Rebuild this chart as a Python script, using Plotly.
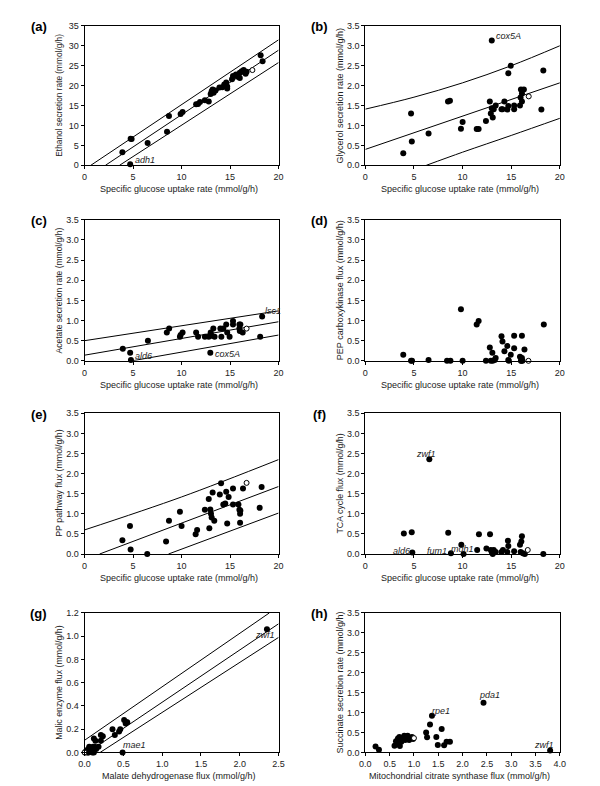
import plotly.graph_objects as go

# ---------------- data ----------------
# (a) ethanol secretion vs glucose uptake
a_x = [3.9, 4.75, 4.85, 4.7, 6.5, 8.5, 8.7, 9.9, 10.1, 11.5, 11.7, 11.9, 12.4, 12.8, 13.0, 13.1, 13.2,
       13.3, 13.5, 13.9, 14.2, 14.4, 14.6, 14.7, 14.7, 15.2, 15.3, 15.6, 15.8, 16.0, 16.0, 16.2, 16.4,
       16.6, 16.7, 18.15, 18.35]
a_y = [3.3, 6.7, 6.6, 0.3, 5.6, 8.4, 12.4, 12.9, 13.4, 15.3, 15.4, 15.9, 16.3, 16.0, 17.9, 18.6, 19.0,
       18.2, 18.8, 19.5, 19.6, 20.3, 20.8, 19.3, 19.8, 21.6, 22.4, 22.8, 22.2, 23.2, 21.9, 23.6, 23.9,
       23.0, 23.5, 27.6, 26.1]
a_open = ([17.3], [23.9])
a_upper = ([0.64, 20], [0, 31.5])
a_mid = ([2.15, 20], [0, 28.9])
a_lower = ([3.6, 20], [0, 25.8])

# (b) glycerol secretion
b_x = [3.9, 4.7, 4.78, 6.5, 8.5, 8.7, 9.83, 10.0, 11.45, 11.65, 12.4, 12.8, 12.9, 13.0, 13.0, 13.1,
       13.2, 13.4, 14.0, 14.1, 14.3, 14.6, 14.7, 14.7, 14.95, 15.3, 15.3, 15.9, 15.96, 16.0, 16.1,
       16.1, 16.3, 18.1, 18.3]
b_y = [0.30, 1.30, 0.60, 0.80, 1.60, 1.62, 0.92, 1.09, 0.91, 0.91, 1.11, 1.60, 1.30, 1.43, 3.13, 1.20,
       1.41, 1.50, 1.41, 1.41, 1.60, 1.40, 2.31, 1.49, 2.50, 1.50, 1.41, 1.50, 1.70, 1.90, 1.80,
       1.60, 1.90, 1.40, 2.38]
b_open = ([16.8], [1.73])
b_upper = ([0, 5, 10, 15, 20], [1.41, 1.71, 2.07, 2.50, 3.0])
b_mid = ([0, 20], [0.40, 2.07])
b_lower = ([6.26, 10, 15, 20], [0, 0.33, 0.75, 1.18])

# (c) acetate secretion
c_x = [3.94, 4.7, 4.78, 6.53, 8.48, 8.72, 9.83, 9.9, 10.1, 11.5, 11.7, 12.4, 12.8, 12.96, 13.0, 13.1,
       13.27, 13.4, 14.0, 14.1, 14.3, 14.6, 14.7, 14.95, 15.3, 15.3, 15.96, 16.06, 15.96, 16.0, 16.3,
       18.1, 18.3]
c_y = [0.30, 0.20, 0.02, 0.50, 0.70, 0.80, 0.60, 0.64, 0.70, 0.70, 0.60, 0.60, 0.60, 0.20, 0.70, 0.62,
       0.80, 0.60, 0.80, 0.60, 0.80, 0.90, 0.70, 0.60, 0.99, 0.90, 0.90, 0.90, 0.80, 0.74, 0.70,
       0.60, 1.10]
c_open = ([16.7], [0.80])
c_upper = ([0, 20], [0.50, 1.24])
c_mid = ([0, 20], [0.14, 0.97])
c_lower = ([4.9, 20], [0, 0.64])

# (d) PEP carboxykinase flux
d_x = [3.9, 4.7, 4.8, 6.5, 8.4, 8.75, 9.83, 10.0, 11.45, 11.65, 12.4, 12.8, 12.9, 13.1, 13.06, 13.3,
       13.4, 14.0, 14.1, 14.3, 14.6, 14.7, 14.75, 14.95, 15.3, 15.3, 15.9, 16.0, 16.05, 16.1, 16.1,
       16.15, 16.36, 18.35]
d_y = [0.15, 0.0, 0.0, 0.02, 0.0, 0.0, 1.28, 0.0, 0.90, 0.99, 0.0, 0.33, 0.0, 0.0, 0.20, 0.02,
       0.07, 0.61, 0.48, 0.24, 0.37, 0.02, 0.0, 0.15, 0.31, 0.62, 0.10, 0.0, 0.0, 0.62, 0.07,
       0.0, 0.28, 0.90]
d_open = ([16.77], [0.0])

# (e) PP pathway flux
e_x = [3.9, 4.68, 4.75, 6.46, 8.4, 8.7, 9.83, 10.0, 11.45, 11.6, 12.4, 12.8, 12.86, 12.96, 13.03,
       13.1, 13.2, 13.37, 13.94, 14.07, 14.3, 14.5, 14.6, 14.7, 14.85, 15.3, 15.3, 15.86, 15.96,
       16.03, 16.06, 16.03, 16.33, 18.05, 18.25]
e_y = [0.34, 0.70, 0.11, 0.0, 0.31, 0.83, 1.05, 0.70, 0.49, 0.60, 1.10, 1.37, 0.64, 1.11, 1.00,
       0.91, 1.53, 0.83, 1.48, 1.76, 1.23, 1.26, 1.55, 0.76, 1.42, 1.63, 1.23, 1.23, 1.10,
       1.00, 1.08, 0.78, 1.63, 1.15, 1.67]
e_open = ([16.7], [1.77])
e_upper = ([0, 10, 20], [0.60, 1.42, 2.35])
e_mid = ([1.55, 20], [0, 1.68])
e_lower = ([8.65, 20], [0, 1.02])

# (f) TCA cycle flux
f_x = [3.96, 4.77, 4.83, 6.58, 8.52, 8.8, 9.87, 10.1, 11.5, 11.68, 12.45, 12.82, 12.9, 13.0, 13.1,
       13.2, 13.4, 14.0, 14.15, 14.66, 14.7, 14.6, 15.3, 15.9, 16.04, 16.1, 15.97, 16.2, 16.4, 18.3]
f_y = [0.51, 0.54, 0.04, 2.36, 0.53, 0.02, 0.23, 0.0, 0.10, 0.49, 0.14, 0.49, 0.10, 0.05, 0.0,
       0.10, 0.05, 0.05, 0.10, 0.33, 0.20, 0.05, 0.07, 0.23, 0.31, 0.44, 0.05, 0.02, 0.0, 0.0]
f_open = ([16.7], [0.10])

# (g) malic enzyme vs malate dehydrogenase flux
g_x = [2.35, 0.49, 0.12, 0.14, 0.21, 0.21, 0.235, 0.36, 0.39, 0.445, 0.46, 0.51, 0.53, 0.54, 0.55,
       0.01, 0.02, 0.03, 0.04, 0.05, 0.05, 0.06, 0.07, 0.08, 0.09, 0.10, 0.11, 0.12, 0.13, 0.15, 0.18]
g_y = [1.06, 0.0, 0.12, 0.10, 0.10, 0.15, 0.14, 0.20, 0.15, 0.18, 0.20, 0.28, 0.25, 0.26, 0.26,
       0.0, 0.01, 0.02, 0.0, 0.03, 0.0, 0.05, 0.01, 0.04, 0.02, 0.0, 0.05, 0.0, 0.05, 0.03, 0.05]
g_open = ([0.0], [0.0])
g_upper = ([0, 2.38], [0.105, 1.2])
g_mid = ([0.04, 2.5], [0, 1.107])
g_lower = ([0.2, 2.5], [0, 0.99])

# (h) succinate secretion vs mitochondrial citrate synthase flux
h_x = [0.21, 0.28, 0.60, 0.63, 0.67, 0.70, 0.71, 0.74, 0.76, 0.80, 0.82, 0.84, 0.87, 0.90, 0.96,
       0.98, 0.67, 1.25, 1.27, 1.33, 1.37, 1.46, 1.49, 1.57, 1.62, 1.67, 1.74, 2.43, 3.80]
h_y = [0.15, 0.07, 0.17, 0.28, 0.35, 0.39, 0.16, 0.27, 0.32, 0.42, 0.31, 0.37, 0.42, 0.31, 0.39,
       0.34, 0.21, 0.50, 0.38, 0.70, 0.92, 0.39, 0.19, 0.59, 0.18, 0.27, 0.27, 1.25, 0.05]
h_open = ([1.0], [0.36])

# ---------------- layout helpers ----------------
W, H = 600, 786
FONT = "Liberation Sans, Arial, sans-serif"
TXT = "#222222"


def dx(l, r):
    return [l / W, r / W]


def dy(t, b):
    return [1 - b / H, 1 - t / H]


LX, RX = (72, 270), (358.5, 557)
ROWS = [(13, 154.3), (209.5, 352.3), (405.5, 548), (607.7, 749)]

panels = [
    dict(lab="(a)", col=LX, row=ROWS[0], xr=[0, 20], xd=5, xf="d", yr=[0, 35], yd=5, yf="d",
         xt="Specific glucose uptake rate (mmol/g/h)", yt="Ethanol secretion rate (mmol/g/h)", ys=8.3,
         pts=(a_x, a_y), op=a_open, lines=[a_upper, a_mid, a_lower],
         notes=[("<i>adh1</i>", 5.0, 1.4, "left")]),
    dict(lab="(b)", col=RX, row=ROWS[0], xr=[0, 20], xd=5, xf="d", yr=[0, 3.5], yd=0.5, yf=".1f",
         xt="Specific glucose uptake rate (mmol/g/h)", yt="Glycerol secretion rate (mmol/g/h)", ys=9,
         pts=(b_x, b_y), op=b_open, lines=[b_upper, b_mid, b_lower],
         notes=[("<i>cox5A</i>", 13.25, 3.25, "left")]),
    dict(lab="(c)", col=LX, row=ROWS[1], xr=[0, 20], xd=5, xf="d", yr=[0, 3.5], yd=0.5, yf=".1f",
         xt="Specific glucose uptake rate (mmol/g/h)", yt="Acetate secretion rate (mmol/g/h)", ys=8.5,
         pts=(c_x, c_y), op=c_open, lines=[c_upper, c_mid, c_lower],
         notes=[("<i>lsc1</i>", 18.4, 1.23, "left"), ("<i>ald6</i>", 5.0, 0.12, "left"),
                ("<i>cox5A</i>", 13.2, 0.17, "left")]),
    dict(lab="(d)", col=RX, row=ROWS[1], xr=[0, 20], xd=5, xf="d", yr=[0, 3.5], yd=0.5, yf=".1f",
         xt="Specific glucose uptake rate (mmol/g/h)", yt="PEP carboxykinase flux (mmol/g/h)", ys=9,
         pts=(d_x, d_y), op=d_open, lines=[], notes=[]),
    dict(lab="(e)", col=LX, row=ROWS[2], xr=[0, 20], xd=5, xf="d", yr=[0, 3.5], yd=0.5, yf=".1f",
         xt="Specific glucose uptake rate (mmol/g/h)", yt="PP pathway flux (mmol/g/h)", ys=8.8,
         pts=(e_x, e_y), op=e_open, lines=[e_upper, e_mid, e_lower], notes=[]),
    dict(lab="(f)", col=RX, row=ROWS[2], xr=[0, 20], xd=5, xf="d", yr=[0, 3.5], yd=0.5, yf=".1f",
         xt="Specific glucose uptake rate (mmol/g/h)", yt="TCA cycle flux (mmol/g/h)", ys=8.8,
         pts=(f_x, f_y), op=f_open, lines=[],
         notes=[("<i>zwf1</i>", 6.2, 2.49, "center"), ("<i>ald6</i>", 4.75, 0.07, "right"),
                ("<i>fum1</i>", 8.65, 0.07, "right"), ("<i>mdh1</i>", 11.35, 0.12, "right")]),
    dict(lab="(g)", col=LX, row=ROWS[3], xr=[0, 2.5], xd=0.5, xf=".1f", yr=[0, 1.2], yd=0.2, yf=".1f",
         xt="Malate dehydrogenase flux (mmol/g/h)", yt="Malic enzyme flux (mmol/g/h)", ys=8.8,
         pts=(g_x, g_y), op=g_open, lines=[g_upper, g_mid, g_lower],
         notes=[("<i>zwf1</i>", 2.32, 1.01, "center"), ("<i>mae1</i>", 0.645, 0.068, "center")]),
    dict(lab="(h)", col=RX, row=ROWS[3], xr=[0, 4.0], xd=0.5, xf=".1f", yr=[0, 3.5], yd=0.5, yf=".1f",
         xt="Mitochondrial citrate synthase flux (mmol/g/h)", yt="Succinate secretion rate (mmol/g/h)", ys=9,
         pts=(h_x, h_y), op=h_open, lines=[],
         notes=[("<i>pda1</i>", 2.55, 1.44, "center"), ("<i>rpe1</i>", 1.55, 1.05, "center"),
                ("<i>zwf1</i>", 3.68, 0.18, "center")]),
]

fig = go.Figure()
annotations = []
layout = {}

for i, p in enumerate(panels):
    n = "" if i == 0 else str(i + 1)
    xa, ya = "x" + n, "y" + n
    # regression / band lines
    for lx, ly in p["lines"]:
        fig.add_trace(go.Scatter(x=lx, y=ly, mode="lines", xaxis=xa, yaxis=ya,
                                 line=dict(color="black", width=1, shape="spline"),
                                 hoverinfo="skip", showlegend=False))
    fig.add_trace(go.Scatter(x=p["pts"][0], y=p["pts"][1], mode="markers", xaxis=xa, yaxis=ya,
                             marker=dict(color="black", size=6, line=dict(width=0)),
                             cliponaxis=False, showlegend=False))
    fig.add_trace(go.Scatter(x=p["op"][0], y=p["op"][1], mode="markers", xaxis=xa, yaxis=ya,
                             marker=dict(color="white", size=5, line=dict(color="black", width=1)),
                             cliponaxis=False, showlegend=False))
    common = dict(showgrid=False, zeroline=False, showline=True, linecolor="black", linewidth=1,
                  mirror=True, ticks="outside", ticklen=3, tickwidth=1, tickcolor="black",
                  tickfont=dict(family=FONT, size=9, color=TXT), fixedrange=True)
    layout["xaxis" + n] = dict(common, domain=dx(*p["col"]), range=p["xr"], dtick=p["xd"], tick0=0,
                               tickformat=p["xf"], anchor=ya)
    layout["yaxis" + n] = dict(common, domain=dy(*p["row"]), range=p["yr"], dtick=p["yd"], tick0=0,
                               tickformat=p["yf"], anchor=xa)
    l, r = p["col"]
    t, b = p["row"]
    # axis titles
    annotations.append(dict(text=p["xt"], xref="paper", yref="paper", x=(l + r) / 2 / W - 0.005,
                            y=1 - (b + 24) / H, showarrow=False, xanchor="center", yanchor="middle",
                            font=dict(family=FONT, size=9, color=TXT)))
    annotations.append(dict(text=p["yt"], xref="paper", yref="paper", x=(l - 26) / W,
                            y=1 - (t + b) / 2 / H, showarrow=False, textangle=-90,
                            xanchor="center", yanchor="middle",
                            font=dict(family=FONT, size=p["ys"], color=TXT)))
    # panel label
    annotations.append(dict(text="<b>" + p["lab"] + "</b>", xref="paper", yref="paper",
                            x=(l - 47) / W, y=1 - (t + 1) / H, showarrow=False,
                            xanchor="center", yanchor="middle",
                            font=dict(family=FONT, size=13, color="black")))
    for txt, tx, ty, anc in p["notes"]:
        annotations.append(dict(text=txt, xref=xa, yref=ya, x=tx, y=ty, showarrow=False,
                                xanchor=anc, yanchor="middle",
                                font=dict(family=FONT, size=9, color=TXT)))

fig.update_layout(width=W, height=H, margin=dict(l=0, r=0, t=0, b=0),
                  paper_bgcolor="white", plot_bgcolor="white", showlegend=False,
                  annotations=annotations, **layout)
fig.write_html("out.html")
